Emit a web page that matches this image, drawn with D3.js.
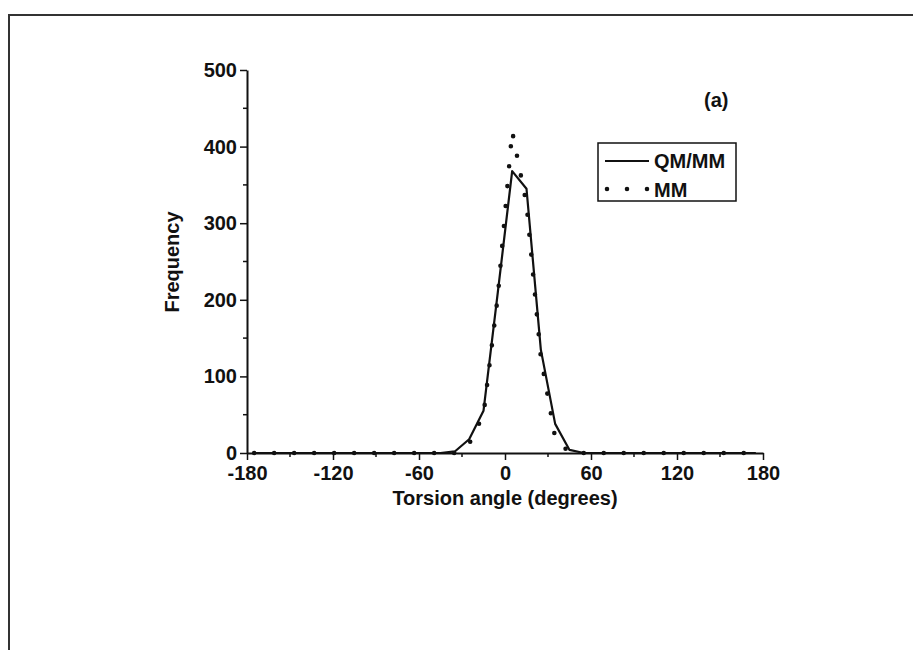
<!DOCTYPE html>
<html>
<head>
<meta charset="utf-8">
<script src="https://cdn.jsdelivr.net/npm/d3@7"></script>
<style>
body{margin:0;background:#fff;}
svg{display:block;}
text{font-family:"Liberation Sans",Arial,sans-serif;font-weight:bold;fill:#111;}
</style>
</head>
<body>
<svg id="chart" width="913" height="650"></svg>
<script>
// ---- data ----
const angles = [-175,-165,-155,-145,-135,-125,-115,-105,-95,-85,-75,-65,-55,-45,-35,-25,-15,-5,5,15,25,35,45,55,65,75,85,95,105,115,125,135,145,155,165,175];
const qmmm   = [0,0,0,0,0,0,0,0,0,0,0,0,0,0,2,18,55,210,368,345,135,38,4,0,0,0,0,0,0,0,0,0,0,0,0,0];
const mm     = [0,0,0,0,0,0,0,0,0,0,0,0,0,0,0,12,50,205,420,325,125,20,0,0,0,0,0,0,0,0,0,0,0,0,0,0];
const xTicks = [-180,-120,-60,0,60,120,180];
const yTicks = [0,100,200,300,400,500];
const seriesNames = ["QM/MM","MM"];
const xTitle = "Torsion angle (degrees)";
const yTitle = "Frequency";
const panelLabel = "(a)";

const svg = d3.select("#chart");
const ink = "#111";
const fs = "20px";

// outer frame
svg.append("rect").attr("x",9).attr("y",15).attr("width",1000).attr("height",1000)
  .attr("fill","none").attr("stroke","#333").attr("stroke-width",2);

const x = d3.scaleLinear().domain([-180,180]).range([247,763]);
const y = d3.scaleLinear().domain([0,500]).range([453,70]);

// minor ticks
const xMinor = d3.range(-150,180,60);
const yMinor = d3.range(50,500,100);
svg.append("g").selectAll("line").data(xMinor).join("line")
  .attr("x1",d=>x(d)).attr("x2",d=>x(d)).attr("y1",y(0)).attr("y2",y(0)+4)
  .attr("stroke",ink).attr("stroke-width",1.5);
svg.append("g").selectAll("line").data(yMinor).join("line")
  .attr("y1",d=>y(d)).attr("y2",d=>y(d)).attr("x1",x(-180)).attr("x2",x(-180)-4)
  .attr("stroke",ink).attr("stroke-width",1.5);

// axes
const xAxis = svg.append("g").attr("transform",`translate(0,${y(0)})`)
  .call(d3.axisBottom(x).tickValues(xTicks).tickSize(7).tickPadding(6).tickSizeOuter(0).tickFormat(d=>d));
const yAxis = svg.append("g").attr("transform",`translate(${x(-180)},0)`)
  .call(d3.axisLeft(y).tickValues(yTicks).tickSize(7).tickPadding(3).tickSizeOuter(0));
[xAxis,yAxis].forEach(g=>{
  g.select(".domain").attr("stroke",ink).attr("stroke-width",2);
  g.selectAll(".tick line").attr("stroke",ink).attr("stroke-width",1.5);
  g.selectAll("text").attr("fill",ink).style("font-size",fs).style("font-weight","bold")
    .style("font-family","'Liberation Sans',Arial,sans-serif");
});
xAxis.selectAll("text").text(d=>String(d).replace("−","-"));

// lines
const pts1 = angles.map((a,i)=>[a,qmmm[i]]);
const pts2 = angles.map((a,i)=>[a,mm[i]]);
const line = d3.line().x(d=>x(d[0])).y(d=>y(d[1]));
svg.append("path").attr("d",line(pts1)).attr("fill","none").attr("stroke",ink).attr("stroke-width",2.2)
  .attr("stroke-linejoin","round");
svg.append("path").attr("d",line(pts2)).attr("fill","none").attr("stroke",ink).attr("stroke-width",4.6)
  .attr("stroke-linecap","round").attr("stroke-dasharray","0,20");

// axis titles
svg.append("text").attr("x",(x(-180)+x(180))/2).attr("y",505).attr("text-anchor","middle")
  .style("font-size",fs).text(xTitle);
svg.append("text").attr("transform","translate(179,262) rotate(-90)").attr("text-anchor","middle")
  .style("font-size",fs).text(yTitle);

// panel label
svg.append("text").attr("x",704).attr("y",107).style("font-size",fs).text(panelLabel);

// legend
const lg = svg.append("g");
lg.append("rect").attr("x",598).attr("y",143).attr("width",138).attr("height",58)
  .attr("fill","#fff").attr("stroke",ink).attr("stroke-width",1.5);
lg.append("line").attr("x1",605).attr("x2",649).attr("y1",161).attr("y2",161)
  .attr("stroke",ink).attr("stroke-width",2.2);
lg.append("line").attr("x1",607).attr("x2",648).attr("y1",189).attr("y2",189)
  .attr("stroke",ink).attr("stroke-width",4.6).attr("stroke-linecap","round").attr("stroke-dasharray","0,20");
lg.append("text").attr("x",654).attr("y",168).style("font-size",fs).text(seriesNames[0]);
lg.append("text").attr("x",654).attr("y",197).style("font-size",fs).text(seriesNames[1]);
</script>
</body>
</html>
